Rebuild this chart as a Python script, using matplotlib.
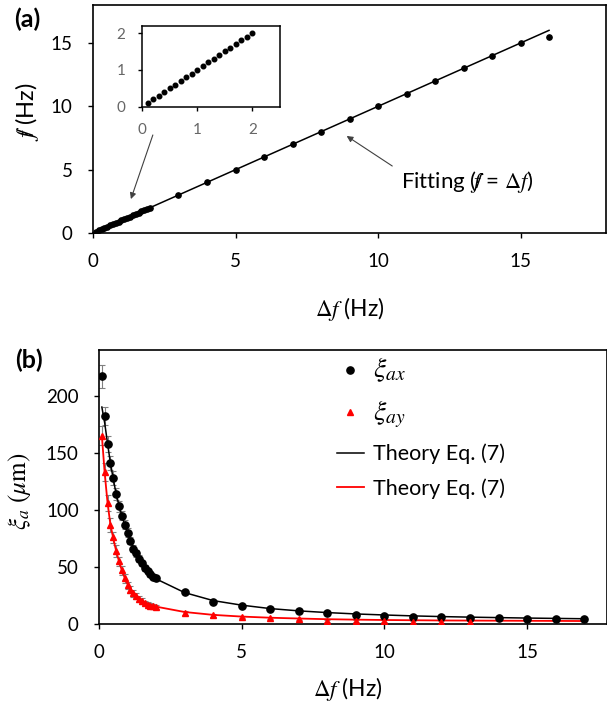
import matplotlib
matplotlib.use("Agg")
import matplotlib.pyplot as plt

plt.rcParams['font.family'] = ['Lato', 'DejaVu Sans']
plt.rcParams['mathtext.fontset'] = 'stix'

# ---- panel (a) data ----
df_low = [0.1, 0.2, 0.3, 0.4, 0.5, 0.6, 0.7, 0.8, 0.9, 1.0,
          1.1, 1.2, 1.3, 1.4, 1.5, 1.6, 1.7, 1.8, 1.9, 2.0]
fb_low = [0.1, 0.2, 0.3, 0.4, 0.5, 0.6, 0.7, 0.8, 0.9, 1.0,
          1.1, 1.2, 1.3, 1.4, 1.5, 1.6, 1.7, 1.8, 1.9, 2.0]
df_high = [3, 4, 5, 6, 7, 8, 9, 10, 11, 12, 13, 14, 15, 16]
fb_high = [3, 4, 5, 6, 7, 8, 9, 10, 11, 12, 13, 14, 15, 15.5]
fit_x = [0, 16]
fit_y = [0, 16]

# ---- panel (b) data ----
df_b = df_low + [3, 4, 5, 6, 7, 8, 9, 10, 11, 12, 13, 14, 15, 16, 17]
xi_ax = [217, 182, 158, 141, 128, 114, 103, 95, 87, 80,
         73, 66, 62, 57, 53, 49, 46, 43.5, 41.5, 40,
         28, 19.5, 16, 13.5, 11, 9.5, 8, 7, 6.3, 5.7, 5.5, 5, 4.5, 4.3, 4.2]
xi_ax_err = [10, 8, 7, 6, 6, 5, 5, 4, 4, 4, 3, 3, 3, 3, 2.5, 2.5, 2.5, 2, 2, 2,
             1.5, 1.5, 1, 1, 1, 1, 1, 1, 1, 1, 1, 1, 1, 1, 1]
df_by = df_low + [3, 4, 5, 6, 7, 8, 9, 10, 11, 12, 13]
xi_ay = [165, 133, 106, 87, 76, 64, 55, 47, 40, 34,
         30, 27, 24.5, 22, 20, 18.5, 17, 16, 15.5, 15,
         9.5, 7.5, 6.4, 5, 4.2, 2.5, 2.5, 2.5, 1.5, 1.5, 1.5]
xi_ay_err = [8, 8, 7, 6, 5, 5, 4, 4, 4, 3, 3, 3, 3, 2.5, 2.5, 2, 2, 2, 2, 2,
             1.5, 1.5, 1, 1, 1, 1, 1, 1, 1, 1, 1]
th_x = df_b
th_ax = [190, 176, 158, 141, 127, 114, 104, 95, 87, 80,
         73, 67, 62, 57, 53, 49.5, 46.5, 43.5, 41.5, 39.5,
         27.5, 20.5, 16.5, 13.5, 11.5, 10, 8.8, 7.9, 7.1, 6.5, 6, 5.6, 5.2, 4.9, 4.6]
th_ay = [165, 132, 106, 87, 75, 64, 55, 47, 40.5, 35,
         31, 28, 25, 22.5, 20.5, 19, 17.8, 16.8, 16, 15.2,
         10.5, 8, 6.5, 5.5, 4.8, 4.2, 3.8, 3.5, 3.3, 3.1, 3, 2.9, 2.8, 2.7, 2.6]

# f with a stroke through it
FB = r'$/\!\!\!f$'

fig = plt.figure(figsize=(6.07, 7.07), dpi=100)

# ---------------- (a) ----------------
ax = fig.add_axes([0.1532, 0.6704, 0.8452, 0.3225])
ax.plot(fit_x, fit_y, color='black', lw=1.1, zorder=2)
ax.plot(df_low + df_high, fb_low + fb_high, 'o', color='black', ms=3.8, zorder=3)
ax.set_xlim(0, 18)
ax.set_ylim(0, 18)
ax.set_xticks([0, 5, 10, 15])
ax.set_yticks([0, 5, 10, 15])
ax.tick_params(direction='out', length=3.6, width=1, pad=11, labelsize=13.5)
for s in ax.spines.values():
    s.set_linewidth(1.2)
ax.set_xlabel(r'$\Delta f$ (Hz)', fontsize=16.5)
ax.xaxis.label.set_va('center')
ax.xaxis.set_label_coords(0.5, -0.335)
ax.set_ylabel(FB + ' (Hz)', fontsize=17)
ax.yaxis.label.set_va('center')
ax.yaxis.set_label_coords(-0.128, 0.53)

ap = dict(arrowstyle='-|>', color='#404040', lw=0.8, mutation_scale=9,
          shrinkA=0, shrinkB=0)
ax.annotate('', xy=(1.33, 2.68), xytext=(2.1, 7.74), arrowprops=ap)
ax.annotate('', xy=(8.9, 7.66), xytext=(10.5, 5.29), arrowprops=ap)
ax.text(10.82, 4.03, 'Fitting (' + FB + r' = $\Delta f$)', fontsize=16,
        ha='left', va='center')

# inset
axi = fig.add_axes([0.2344, 0.8491, 0.2268, 0.1146])
axi.plot(df_low, fb_low, 'o', color='black', ms=3.3)
axi.set_xlim(0, 2.5)
axi.set_ylim(0, 2.2)
axi.set_xticks([0, 1, 2])
axi.set_yticks([0, 1, 2])
axi.tick_params(direction='out', length=3, width=1, pad=9, labelsize=11,
                labelcolor='#666666')
for s in axi.spines.values():
    s.set_linewidth(1.1)

fig.text(0.045, 0.972, '(a)', fontsize=18, fontweight='bold', ha='center', va='center')

# ---------------- (b) ----------------
bx = fig.add_axes([0.1631, 0.1174, 0.8369, 0.3876])
bx.errorbar(df_b, xi_ax, yerr=xi_ax_err, fmt='none', ecolor='#808080',
            elinewidth=0.8, capsize=2.5, capthick=0.8, zorder=1)
bx.errorbar(df_by, xi_ay, yerr=xi_ay_err, fmt='none', ecolor='#808080',
            elinewidth=0.8, capsize=2.5, capthick=0.8, zorder=1)
bx.plot(df_b, xi_ax, 'o', color='black', ms=5.2, zorder=3, label=r'$\xi_{ax}$')
bx.plot(df_by, xi_ay, '^', color='red', ms=4.6, zorder=3, label=r'$\xi_{ay}$')
bx.plot(th_x, th_ax, '-', color='black', lw=1.1, zorder=2, label='Theory Eq. (7)')
bx.plot(th_x, th_ay, '-', color='red', lw=1.3, zorder=2, label='Theory Eq. (7)')
bx.set_xlim(0, 17.8)
bx.set_ylim(0, 240)
bx.set_xticks([0, 5, 10, 15])
bx.set_yticks([0, 50, 100, 150, 200])
bx.tick_params(direction='out', length=3.6, width=1, pad=11, labelsize=13.5)
for s in bx.spines.values():
    s.set_linewidth(1.2)
bx.set_xlabel(r'$\Delta f$ (Hz)', fontsize=16.5)
bx.xaxis.label.set_va('center')
bx.xaxis.set_label_coords(0.49, -0.237)
bx.set_ylabel(r'$\xi_a\ (\mu\mathrm{m})$', fontsize=18)
bx.yaxis.label.set_va('center')
bx.yaxis.set_label_coords(-0.156, 0.485)

leg = bx.legend(loc='upper left', bbox_to_anchor=(0.555, 0.497),
                bbox_transform=fig.transFigure, frameon=False, fontsize=15.5,
                handlelength=1.25, handletextpad=0.45, labelspacing=0.65,
                borderpad=0, borderaxespad=0)
for t in leg.get_texts()[:2]:
    t.set_fontsize(20)

fig.text(0.047, 0.491, '(b)', fontsize=18, fontweight='bold', ha='center', va='center')

fig.savefig('out.png', dpi=100)
